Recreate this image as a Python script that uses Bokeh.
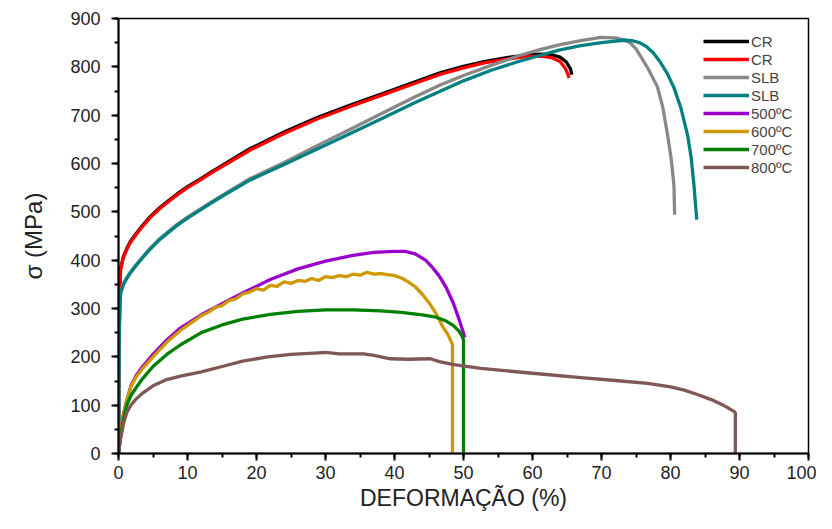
from bokeh.plotting import figure
from bokeh.embed import file_html
from bokeh.resources import INLINE
from bokeh.models import Range1d, SingleIntervalTicker, Legend, LegendItem

# ---- data ----
cr1_x = [0, 0.1, 0.3, 0.7, 1.2, 1.7, 2.5, 3.5, 4.6, 6, 7.5, 8.5, 10, 12, 13.3, 15.5, 19.1, 24, 28.8, 33.6, 38.5,
         43, 46.7, 50, 53, 56.3, 59, 61.2, 62.8, 64, 64.9, 65.5, 65.7]
cr1_y = [0, 300, 382, 407, 424, 438, 454, 472, 490, 509, 526, 537, 552, 569, 581, 600, 631, 665, 695, 721, 746,
         769, 788, 801, 811, 819, 824, 826, 825, 820, 810, 796, 784]

cr2_x = [0, 0.1, 0.3, 0.7, 1.2, 1.7, 2.5, 3.5, 4.6, 6, 7.5, 8.5, 10, 12, 13.3, 15.5, 19.1, 24, 28.8, 33.6, 38.5,
         43, 46.7, 50, 53, 56.3, 59, 61.2, 62.8, 64, 64.7, 65.1, 65.3]
cr2_y = [0, 300, 380, 405, 422, 436, 452, 470, 488, 507, 524, 535, 550, 567, 579, 598, 628, 662, 692, 718, 743,
         766, 785, 798, 808, 816, 821, 822, 819, 811, 798, 786, 777]

slb1_x = [0, 0.1, 0.3, 0.7, 1.2, 1.7, 2.5, 3.5, 4.6, 6, 8.5, 10, 13.3, 15.5, 19.1, 24, 28.8, 33.6, 38.5, 43, 46.7,
          50, 54, 58, 61.2, 64, 67, 69.9, 72, 73.3, 74.2, 75, 75.7, 76.8, 78.1, 78.9, 79.6, 80.1, 80.5, 80.6]
slb1_y = [0, 255, 333, 351, 364, 375, 390, 407, 425, 445, 474, 489, 519, 538, 569, 602, 637, 671, 706, 738, 763,
          782, 803, 823, 836, 846, 854, 861, 860, 856, 849, 837, 821, 795, 759, 715, 657, 610, 555, 494]

slb2_x = [0, 0.1, 0.3, 0.7, 1.2, 1.7, 2.5, 3.5, 4.6, 6, 8.5, 10, 13.3, 15.5, 19.1, 24, 28.8, 33.6, 38.5, 43, 46.7,
          50, 54, 58, 61.2, 64, 67, 70, 73.2, 74.5, 75.5, 76.5, 77.5, 78.5, 79.5, 80.5, 81.5, 82.5, 83, 83.4, 83.8]
slb2_y = [0, 250, 331, 349, 362, 373, 388, 405, 423, 443, 472, 487, 517, 536, 566, 598, 630, 662, 695, 726, 750,
          771, 793, 811, 824, 835, 844, 850, 855, 854, 850, 842, 829, 810, 787, 757, 715, 657, 612, 555, 484]

t500_x = [0, 0.3, 0.7, 1.2, 1.8, 2.5, 3.5, 5, 7, 9, 12, 15, 18, 22, 26, 30, 34, 37, 40, 41.5, 43, 44.5, 45.5,
          46.5, 47.5, 48.5, 49.3, 49.8, 50.2]
t500_y = [0, 40, 80, 110, 140, 160, 180, 205, 235, 260, 287, 310, 332, 360, 382, 398, 410, 416, 418, 418, 413, 400, 385,
          367, 343, 312, 280, 258, 240]

t600_x = [0, 0.3, 0.7, 1.2, 1.8, 2.5, 3.5, 5, 7, 9, 11, 12, 13, 14, 15, 16, 17, 18, 19, 20, 21, 22, 23, 24, 25, 26,
          27, 28, 29, 30, 31, 32, 33, 34, 35, 36, 37, 38, 39, 40, 41, 42, 43, 44, 45, 46, 47, 47.8, 48.2, 48.4, 48.4]
t600_y = [0, 40, 80, 110, 138, 157, 176, 200, 230, 255, 275, 285, 292, 302, 306, 316, 320, 330, 334, 341, 338, 348, 346, 355, 352, 358,
          356, 362, 358, 366, 364, 368, 366, 371, 369, 375, 371, 372, 370, 368, 363, 355, 345, 330, 312, 290, 262, 245, 232, 225, 0]

t700_x = [0, 0.3, 0.7, 1.2, 1.8, 2.5, 3.5, 5, 7, 9, 12, 15, 18, 22, 26, 30, 34, 38, 41, 44, 46, 47.5, 48.5, 49.3,
          49.8, 50, 50]
t700_y = [0, 35, 70, 100, 120, 135, 155, 180, 205, 225, 250, 266, 278, 288, 294, 297, 297, 295, 292, 287, 282, 274, 265, 254,
          243, 235, 0]

t800_x = [0, 0.3, 0.7, 1.2, 1.8, 2.5, 3.5, 5, 7, 9, 12, 15, 18, 21.6, 25, 29, 30, 32, 35.5, 37, 39.4, 42, 45.2, 46.5,
          48.6, 52.5, 60, 67, 72, 76.7, 80, 82, 83.9, 86, 87.5, 88.5, 89.2, 89.4, 89.4]
t800_y = [0, 30, 60, 85, 100, 112, 125, 140, 153, 160, 169, 180, 191, 200, 205, 208, 209, 206, 206, 203, 196, 195, 196, 190,
          184, 176, 166, 157, 151, 145, 138, 131, 122, 111, 101, 93, 87, 84, 0]

series = [
    ("CR", cr1_x, cr1_y, "#000000"),
    ("CR", cr2_x, cr2_y, "#ff0000"),
    ("SLB", slb1_x, slb1_y, "#888888"),
    ("SLB", slb2_x, slb2_y, "#008080"),
    ("500ºC", t500_x, t500_y, "#9900cc"),
    ("600ºC", t600_x, t600_y, "#cc9900"),
    ("700ºC", t700_x, t700_y, "#008000"),
    ("800ºC", t800_x, t800_y, "#7f5757"),
]

p = figure(width=816, height=513, output_backend="svg", toolbar_location=None,
           x_range=Range1d(0, 100), y_range=Range1d(0, 900),
           min_border_left=118, min_border_right=8, min_border_top=18, min_border_bottom=59)

FONT = "Liberation Sans"
items = []
for label, xs, ys, col in series:
    r = p.line(xs, ys, line_color=col, line_width=3.3, line_join="round")
    items.append(LegendItem(label=label, renderers=[r]))

p.grid.visible = False
p.outline_line_color = "black"
p.outline_line_width = 1.5
p.background_fill_color = "white"
p.border_fill_color = "white"

for ax in (p.xaxis[0], p.yaxis[0]):
    ax.axis_line_width = 2
    ax.major_tick_in = 0
    ax.major_tick_out = 7
    ax.major_tick_line_width = 2
    ax.minor_tick_in = 0
    ax.minor_tick_out = 4
    ax.minor_tick_line_width = 2
    ax.major_label_text_font = FONT
    ax.major_label_text_font_size = "18px"
    ax.major_label_text_color = "#222222"
    ax.axis_label_text_font = FONT
    ax.axis_label_text_font_style = "normal"
    ax.axis_label_text_color = "#222222"

p.xaxis[0].ticker = SingleIntervalTicker(interval=10, num_minor_ticks=2)
p.yaxis[0].ticker = SingleIntervalTicker(interval=100, num_minor_ticks=2)
p.xaxis[0].axis_label = "DEFORMAÇÃO (%)"
p.yaxis[0].axis_label = "σ (MPa)"
p.xaxis[0].axis_label_text_font_size = "23px"
p.yaxis[0].axis_label_text_font_size = "24px"
p.xaxis[0].axis_label_standoff = 3
p.yaxis[0].axis_label_standoff = 20
p.yaxis[0].major_label_standoff = 11
p.xaxis[0].major_label_standoff = 5

legend = Legend(items=items, location=(579, 271),
                label_text_font=FONT, label_text_font_size="15px",
                glyph_width=46, glyph_height=18, label_height=18, spacing=0,
                label_standoff=2, padding=6, margin=0,
                background_fill_alpha=0, border_line_alpha=0)
p.add_layout(legend)

open("out.html", "w").write(file_html(p, INLINE))
